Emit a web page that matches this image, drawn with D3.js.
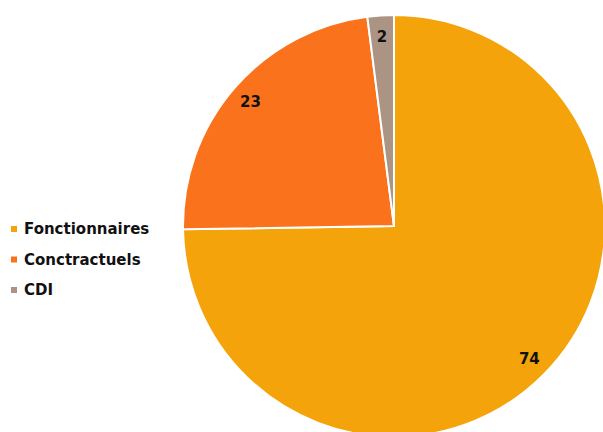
<!DOCTYPE html>
<html>
<head>
<meta charset="utf-8">
<script src="https://cdn.jsdelivr.net/npm/d3@7"></script>
<style>
  body { margin: 0; background: #fff; }
  svg { display: block; font-family: "DejaVu Sans", "Lato", sans-serif; font-weight: bold; }
</style>
</head>
<body>
<svg id="chart" width="603" height="432"></svg>
<script>
const categories = ["Fonctionnaires", "Conctractuels", "CDI"];
const values = [74, 23, 2];
const colors = ["#F4A40A", "#FA731C", "#AC9484"];

const svg = d3.select("#chart");
const cx = 394, cy = 226, radius = 211;

const color = d3.scaleOrdinal().domain(categories).range(colors);

const pie = d3.pie().sort(null).value(function (d) { return d.value; });
const data = categories.map(function (c, i) { return { name: c, value: values[i] }; });
const arcs = pie(data);

const arc = d3.arc().innerRadius(0).outerRadius(radius);
const labelArc = d3.arc().innerRadius(radius * 0.9).outerRadius(radius * 0.9);

const g = svg.append("g").attr("transform", "translate(" + cx + "," + cy + ")");

g.selectAll("path.slice")
    .data(arcs)
    .enter()
    .append("path")
    .attr("class", "slice")
    .attr("d", arc)
    .attr("fill", function (d) { return color(d.data.name); })
    .attr("stroke", "#fff")
    .attr("stroke-width", 2)
    .attr("stroke-linejoin", "miter");

g.selectAll("text.label")
    .data(arcs)
    .enter()
    .append("text")
    .attr("class", "label")
    .attr("transform", function (d) { return "translate(" + labelArc.centroid(d) + ")"; })
    .attr("text-anchor", "middle")
    .attr("dy", "0.35em")
    .attr("font-size", 15)
    .attr("fill", "#111")
    .text(function (d) { return d.data.value; });

// legend
const legend = svg.append("g").attr("transform", "translate(11,229)");
const item = legend.selectAll("g.item")
    .data(categories)
    .enter()
    .append("g")
    .attr("class", "item")
    .attr("transform", function (d, i) { return "translate(0," + (i * 30.5) + ")"; });

item.append("rect")
    .attr("x", 0)
    .attr("y", -3)
    .attr("width", 6)
    .attr("height", 6)
    .attr("fill", function (d) { return color(d); });

item.append("text")
    .attr("x", 13)
    .attr("dy", "0.35em")
    .attr("font-size", 15)
    .attr("fill", "#111")
    .text(function (d) { return d; });
</script>
</body>
</html>
